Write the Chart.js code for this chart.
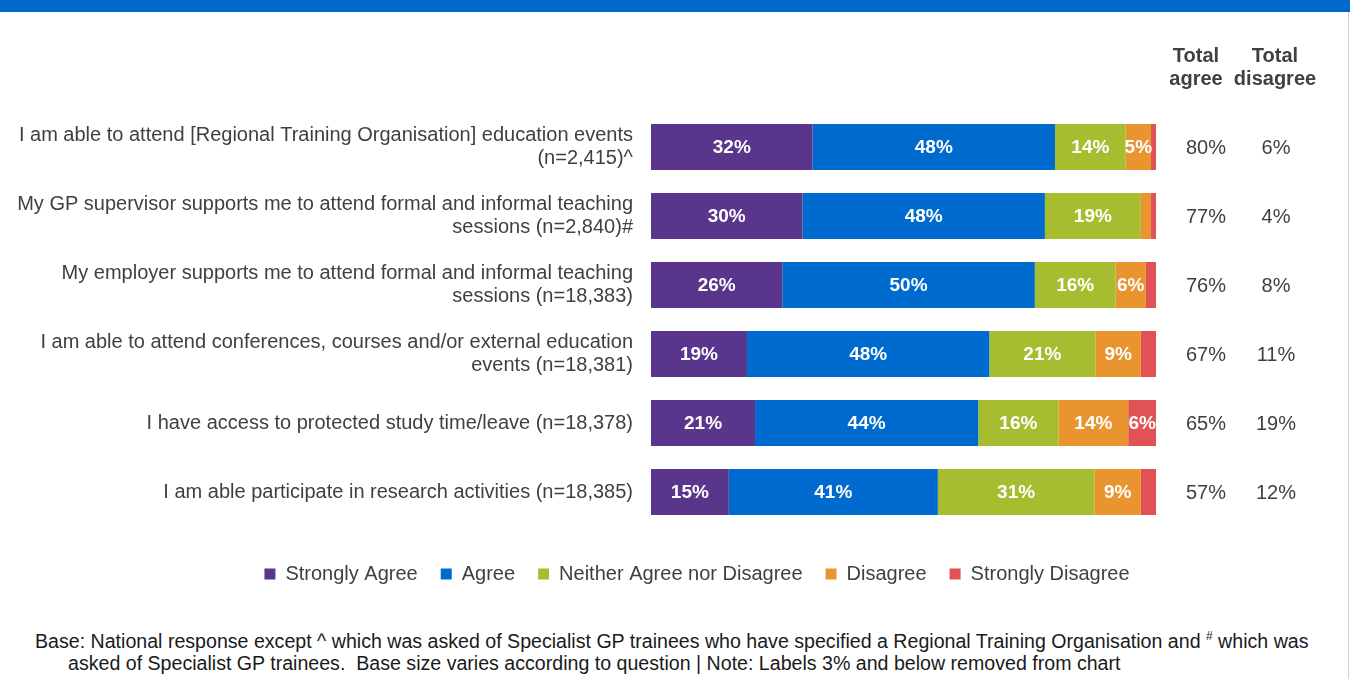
<!DOCTYPE html>
<html>
<head>
<meta charset="utf-8">
<script src="https://cdn.jsdelivr.net/npm/chart.js@4"></script>
<style>
  body { margin: 0; width: 1350px; height: 679px; overflow: hidden; background: #fff; font-family: "Liberation Sans", Arial, sans-serif; }
  #band { position: absolute; left: 0; top: 0; width: 1350px; height: 12px; background: #0069cc; z-index: 2; }
  #edge { position: absolute; left: 1348px; top: 12px; width: 1px; height: 667px; background: #d0d0d0; z-index: 2; }
  #wrap { position: absolute; left: 0; top: 0; width: 1394px; height: 620px; }
  #nota { position: absolute; left: 35px; top: 625px; width: 1310px; font-size: 19.6px; line-height: 22px; color: #1a1a1a; white-space: nowrap; }
  #nota .l2 { padding-left: 33px; }
</style>
</head>
<body>
<div id="wrap"><canvas id="grafico"></canvas></div>
<div id="band"></div>
<div id="edge"></div>
<div id="nota">
  <div>Base: National response except ^ which was asked of Specialist GP trainees who have specified a Regional Training Organisation and <sup style="font-size:12px">#</sup> which was</div>
  <div class="l2">asked of Specialist GP trainees.&nbsp; Base size varies according to question | Note: Labels 3% and below removed from chart</div>
</div>
<script>
// preguntas (eje Y), en dos lineas como en el original
const preguntas = [
  ["I am able to attend [Regional Training Organisation] education events", "(n=2,415)^"],
  ["My GP supervisor supports me to attend formal and informal teaching", "sessions (n=2,840)#"],
  ["My employer supports me to attend formal and informal teaching", "sessions (n=18,383)"],
  ["I am able to attend conferences, courses and/or external education", "events (n=18,381)"],
  "I have access to protected study time/leave (n=18,378)",
  "I am able participate in research activities (n=18,385)"
];

// porcentajes de cada respuesta
const muyDeAcuerdo = [32, 30, 26, 19, 20.6, 15.4];
const deAcuerdo = [48, 48, 50, 48, 44.2, 41.4];
const neutral = [14, 19, 16, 21, 15.9, 31];
const desacuerdo = [5, 2, 6, 9, 13.8, 9.2];
const muyDesacuerdo = [1, 1, 2, 3, 5.5, 3];

// totales de la derecha
const totalAcuerdo = ["80%", "77%", "76%", "67%", "65%", "57%"];
const totalDesacuerdo = ["6%", "4%", "8%", "11%", "19%", "12%"];

const gris = "#404040";
const fuente = "'Liberation Sans', Arial";

// etiquetas blancas dentro de las barras (solo > 3%)
const etiquetas = {
  id: "etiquetas",
  afterDatasetsDraw(chart) {
    const ctx = chart.ctx;
    ctx.save();
    ctx.font = "bold 19px " + fuente;
    ctx.fillStyle = "#fff";
    ctx.textAlign = "center";
    ctx.textBaseline = "middle";
    chart.data.datasets.forEach((ds, i) => {
      chart.getDatasetMeta(i).data.forEach((bar, j) => {
        const v = ds.data[j];
        if (v <= 3) return;
        const cx = (bar.base + bar.x) / 2;
        ctx.fillText(Math.round(v) + "%", cx, bar.y + 1);
      });
    });
    ctx.restore();
  }
};

// columnas de totales
const totales = {
  id: "totales",
  afterDraw(chart) {
    const ctx = chart.ctx;
    const y = chart.scales.y;
    ctx.save();
    ctx.fillStyle = gris;
    ctx.textAlign = "center";
    ctx.textBaseline = "middle";
    ctx.font = "bold 20px " + fuente;
    ctx.fillText("Total", 1196, 56);
    ctx.fillText("agree", 1196, 79);
    ctx.fillText("Total", 1275, 56);
    ctx.fillText("disagree", 1275, 79);
    ctx.font = "20px " + fuente;
    preguntas.forEach((p, i) => {
      const py = y.getPixelForValue(i) + 1;
      ctx.fillText(totalAcuerdo[i], 1206, py);
      ctx.fillText(totalDesacuerdo[i], 1276, py);
    });
    ctx.restore();
  }
};

function inicio() {
  myChart = new Chart("grafico", {
    type: "bar",
    data: {
      labels: preguntas,
      datasets: [
        { label: "Strongly Agree", backgroundColor: "#59358c", data: muyDeAcuerdo },
        { label: "Agree", backgroundColor: "#006bcf", data: deAcuerdo },
        { label: "Neither Agree nor Disagree", backgroundColor: "#a8bc2f", data: neutral },
        { label: "Disagree", backgroundColor: "#e9942f", data: desacuerdo },
        { label: "Strongly Disagree", backgroundColor: "#e05256", data: muyDesacuerdo }
      ]
    },
    options: {
      indexAxis: "y",
      responsive: true,
      maintainAspectRatio: false,
      animation: false,
      categoryPercentage: 0.67,
      barPercentage: 1,
      layout: { padding: { left: 0, right: 0, top: 112.5, bottom: 26 } },
      scales: {
        x: {
          stacked: true, min: 0, max: 100, display: true,
          ticks: { display: false }, grid: { display: false, drawTicks: false }, border: { display: false },
          afterFit: s => { s.height = 14.5; }
        },
        y: {
          stacked: true,
          grid: { display: false, drawTicks: false }, border: { display: false },
          ticks: { color: gris, padding: 18, font: { family: fuente, size: 20, lineHeight: 1.15 } },
          afterFit: s => { s.width = 651; }
        },
        derecha: {
          type: "category", position: "right", display: true,
          ticks: { display: false }, grid: { display: false, drawTicks: false }, border: { display: false },
          afterFit: s => { s.width = 238; }
        }
      },
      plugins: {
        tooltip: { enabled: false },
        legend: {
          position: "bottom",
          labels: {
            color: gris, boxWidth: 11, boxHeight: 11, padding: 23,
            font: { family: fuente, size: 20 }
          }
        }
      }
    },
    plugins: [etiquetas, totales]
  });
}
onload = inicio;
</script>
</body>
</html>
